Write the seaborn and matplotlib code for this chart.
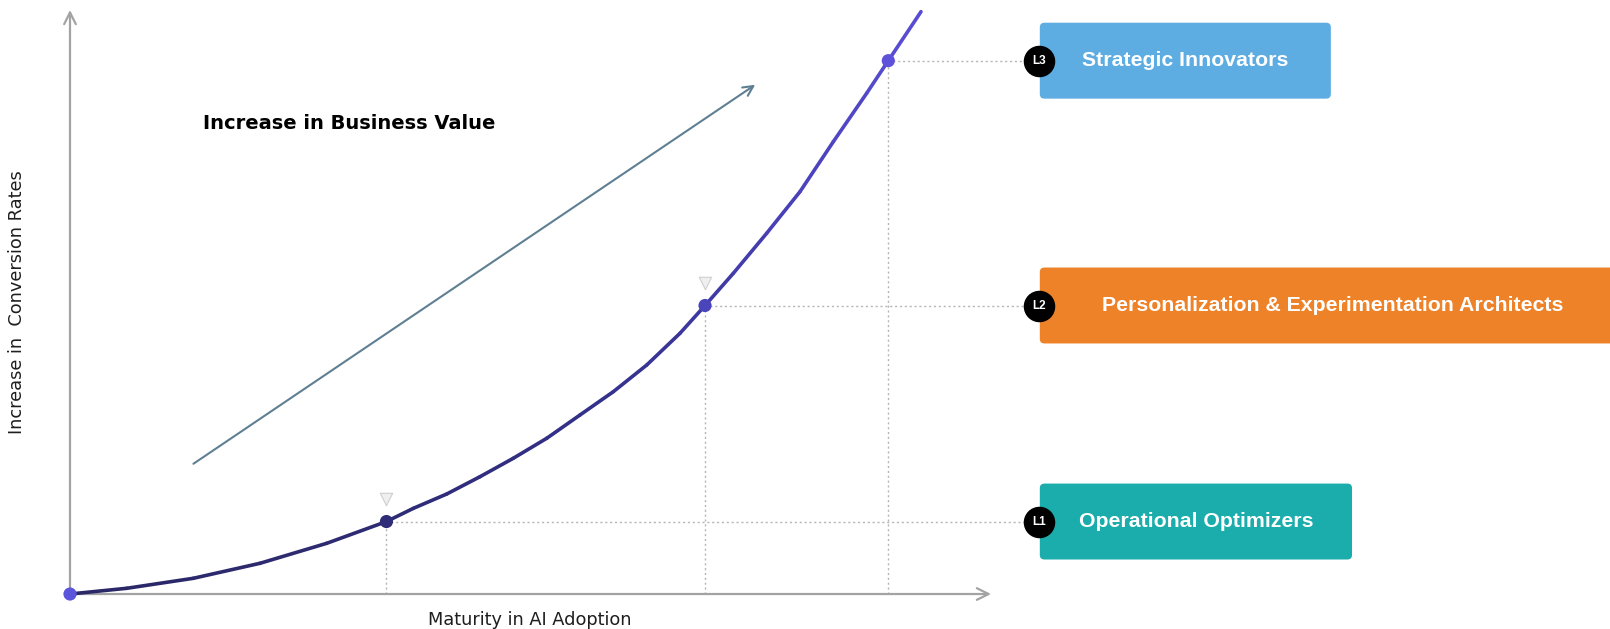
import numpy as np
import matplotlib
matplotlib.use("Agg")
import matplotlib.pyplot as plt
import seaborn as sns
from matplotlib.collections import LineCollection
from matplotlib.colors import LinearSegmentedColormap
from matplotlib.patches import FancyBboxPatch

# maturity curve (maturity 0-100, conversion 0-100)
curve_x = [0, 6.16, 13.39, 20.63, 27.87, 34.36, 37.28, 40.90, 44.52, 48.13, 51.76,
           55.37, 58.99, 62.62, 66.23, 68.95, 72.02, 75.64, 79.26, 82.88, 86.50,
           88.85, 92.40]
curve_y = [0, 0.98, 2.69, 5.26, 8.68, 12.41, 14.67, 17.12, 20.09, 23.24, 26.66,
           30.65, 34.64, 39.21, 44.64, 49.40, 54.91, 61.76, 68.89, 77.45, 85.74,
           91.32, 99.71]

# maturity levels
levels = ["L1", "L2", "L3"]
level_names = ["Operational Optimizers",
               "Personalization & Experimentation Architects",
               "Strategic Innovators"]
level_x = [34.36, 68.95, 88.85]
level_y = [12.41, 49.40, 91.32]
level_colors = ["#1AADAB", "#EE8228", "#5DADE2"]
marker_colors = ["#2F2C78", "#4B45BC", "#5E52DA"]

sns.set_theme(style="white")

fig = plt.figure(figsize=(16.1, 6.29), dpi=100)
ax = fig.add_axes([0, 0, 1, 1])
ax.set_xlim(-7.60, 167.21)
ax.set_ylim(-5.99, 101.71)
ax.axis("off")

# axes with open arrow heads
axis_col = "#A3A3A3"
ax.annotate("", xy=(0, 100), xytext=(0, -0.2),
            arrowprops=dict(arrowstyle="->,head_length=0.7,head_width=0.35",
                            color=axis_col, lw=1.6, shrinkA=0, shrinkB=0))
ax.annotate("", xy=(100, 0), xytext=(-0.2, 0),
            arrowprops=dict(arrowstyle="->,head_length=0.7,head_width=0.35",
                            color=axis_col, lw=1.6, shrinkA=0, shrinkB=0))

# guide lines from each level point
dot_col = "#B5B5B5"
box_left = 105.3
for lx, ly in zip(level_x, level_y):
    ax.plot([lx, lx], [0, ly], ls=(0, (1.5, 2)), color=dot_col, lw=1, zorder=1)
    ax.plot([lx, box_left], [ly, ly], ls=(0, (1.5, 2)), color=dot_col, lw=1, zorder=1)

# gradient curve
pts = np.column_stack([curve_x, curve_y])
segs = np.stack([pts[:-1], pts[1:]], axis=1)
cmap = LinearSegmentedColormap.from_list("curve", ["#2B2868", "#34318C", "#4941B8", "#5A4FD6"])
mid_y = (np.array(curve_y[:-1]) + np.array(curve_y[1:])) / 2
lc = LineCollection(segs, colors=cmap(mid_y / 100), linewidths=2.6,
                    capstyle="round", joinstyle="round", zorder=3)
ax.add_collection(lc)

# points on the curve
sns.scatterplot(x=[0], y=[0], color="#5A55DB", s=90, edgecolor="none", ax=ax, zorder=4)
sns.scatterplot(x=level_x, y=level_y, hue=levels, palette=marker_colors,
                s=90, edgecolor="none", legend=False, ax=ax, zorder=4)

# small grey triangles above first two points
sns.scatterplot(x=level_x[:2], y=[y + 3.9 for y in level_y[:2]], marker="v",
                color="#EFEFEF", edgecolor="#CFCFCF", linewidth=0.8, s=80, ax=ax, zorder=4)

# rising arrow
ax.annotate("", xy=(74.4, 87.2), xytext=(13.4, 22.3),
            arrowprops=dict(arrowstyle="->,head_length=0.6,head_width=0.3",
                            color="#5F7F92", lw=1.5, shrinkA=0, shrinkB=0))
ax.text(14.4, 80.6, "Increase in Business Value", fontsize=14, fontweight="bold",
        family="DejaVu Sans", color="black", va="center", ha="left")

# axis titles
ax.text(-5.7, 50, "Increase in  Conversion Rates", rotation=90, fontsize=12.8,
        family="DejaVu Sans", color="#1E1E1E", va="center", ha="center")
ax.text(49.9, -4.4, "Maturity in AI Adoption", fontsize=12.8,
        family="DejaVu Sans", color="#1E1E1E", va="center", ha="center")

# level boxes
box_w = [33.9, 66.0, 31.6]
box_h = 13.0
for i, (lab, name, ly) in enumerate(zip(levels, level_names, level_y)):
    w = box_w[i]
    rect = FancyBboxPatch((box_left, ly - box_h / 2), w, box_h,
                          boxstyle="round,pad=0,rounding_size=0.5",
                          mutation_aspect=1.58, facecolor=level_colors[i],
                          edgecolor="none", zorder=2)
    ax.add_patch(rect)
    tx = box_left + (min(box_left + w, 167.2) - box_left) / 2
    ax.text(tx + (0.9 if i == 1 else 0), ly, name, color="white", fontsize=15.3,
            fontweight="bold", family="Liberation Sans", va="center", ha="center", zorder=5)
    ax.scatter([105.2], [ly], s=470, color="black", zorder=5)
    ax.text(105.2, ly, lab, color="white", fontsize=8.5, fontweight="bold",
            family="Liberation Sans", va="center", ha="center", zorder=6)

fig.savefig("out.png", dpi=100)
